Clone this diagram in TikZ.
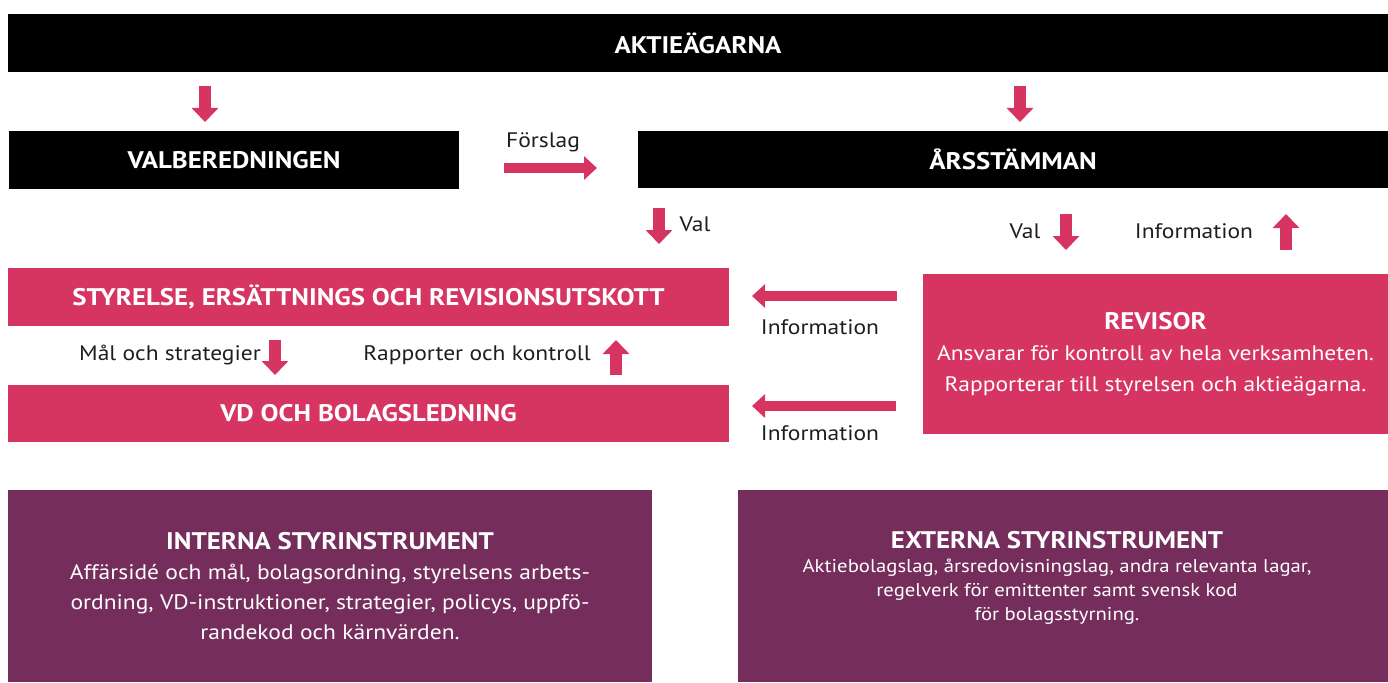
\documentclass[tikz,border=0pt]{standalone}
\usepackage{fontspec}
\setmainfont{PT Sans}[FakeStretch=1.12]
\usepackage{tikz}
\usetikzlibrary{arrows.meta}
\definecolor{rosa}{RGB}{214,53,98}
\definecolor{lila}{RGB}{117,45,92}
\definecolor{text}{RGB}{30,30,30}
\tikzset{
  svartbox/.style={fill=black, text=white, inner sep=0pt, font=\bfseries\fontsize{24}{28}\selectfont},
  rosabox/.style={fill=rosa, text=white, inner sep=0pt, align=center, font=\bfseries\fontsize{24}{28}\selectfont},
  lilabox/.style={fill=lila, text=white, inner sep=0pt, align=center},
  etikett/.style={text=text, inner sep=0pt, font=\fontsize{21}{25}\selectfont},
  pil/.style={draw=rosa, line width=12pt, -{Triangle[length=14pt,width=26pt]}},
  hpil/.style={draw=rosa, line width=10pt, -{Triangle[length=13pt,width=23pt]}}
}
\begin{document}
\begin{tikzpicture}[x=1pt,y=-1pt]
\useasboundingbox (0,0) rectangle (1388,682);
\node[svartbox, minimum width=1380pt, minimum height=58pt] (aktie) at (698,43) {AKTIEÄGARNA};
\node[svartbox, minimum width=450pt, minimum height=58pt] (valb) at (234,160) {VALBEREDNINGEN};
\node[svartbox, minimum width=750pt, minimum height=57pt] (arss) at (1013,159.5) {ÅRSSTÄMMAN};
\node[rosabox, minimum width=721pt, minimum height=58pt] (styr) at (368.5,297) {STYRELSE, ERSÄTTNINGS OCH REVISIONSUTSKOTT};
\node[rosabox, minimum width=721pt, minimum height=57pt] (vd) at (368.5,413.5) {VD OCH BOLAGSLEDNING};
\node[rosabox, minimum width=465pt, minimum height=160pt, font=\fontsize{21}{31}\selectfont] (rev) at (1155.5,354)
  {{\bfseries\fontsize{24}{31}\selectfont REVISOR}\\
   Ansvarar för kontroll av hela verksamheten.\\
   Rapporterar till styrelsen och aktieägarna.};
\node[lilabox, minimum width=644pt, minimum height=192pt, font=\fontsize{21}{30}\selectfont] (intern) at (330,586)
  {{\bfseries\fontsize{24}{33}\selectfont INTERNA STYRINSTRUMENT}\\
   Affärsidé och mål, bolagsordning, styrelsens arbets-\\
   ordning, VD-instruktioner, strategier, policys, uppfö-\\
   randekod och kärnvärden.};
\node[lilabox, minimum width=650pt, minimum height=192pt] (extern) at (1063,586) {};
\node[lilabox, fill=none, font=\fontsize{18.5}{24}\selectfont] (externtext) at (1057,578)
  {{\bfseries\fontsize{24}{26}\selectfont EXTERNA STYRINSTRUMENT}\\
   Aktiebolagslag, årsredovisningslag, andra relevanta lagar,\\
   regelverk för emittenter samt svensk kod\\
   för bolagsstyrning.};

\coordinate (a1) at (205,86);   \coordinate (a2) at (205,122);
\coordinate (b1) at (1020,86);  \coordinate (b2) at (1020,122);
\coordinate (f1) at (504,168);  \coordinate (f2) at (597,168);
\coordinate (v1) at (659,208);  \coordinate (v2) at (659,244);
\coordinate (w1) at (1066,214); \coordinate (w2) at (1066,250);
\coordinate (i1) at (1286,250); \coordinate (i2) at (1286,214);
\coordinate (s1) at (897,296);  \coordinate (s2) at (752,296);
\coordinate (t1) at (896,406);  \coordinate (t2) at (752,406);
\coordinate (m1) at (275,340);  \coordinate (m2) at (275,375);
\coordinate (r1) at (616,375);  \coordinate (r2) at (616,340);
\draw[pil] (a1) -- (a2);
\draw[pil] (b1) -- (b2);
\draw[hpil] (f1) -- (f2);
\draw[pil] (v1) -- (v2);
\draw[pil] (w1) -- (w2);
\draw[pil] (i1) -- (i2);
\draw[hpil] (s1) -- (s2);
\draw[hpil] (t1) -- (t2);
\draw[pil] (m1) -- (m2);
\draw[pil] (r1) -- (r2);

\node[etikett] (forslag) at (543,142) {Förslag};
\node[etikett] (val1) at (695,224) {Val};
\node[etikett] (val2) at (1025,231) {Val};
\node[etikett] (info1) at (1194,231) {Information};
\node[etikett] (info2) at (820,327) {Information};
\node[etikett] (info3) at (820,433) {Information};
\node[etikett] (mal) at (170,355) {Mål och strategier};
\node[etikett] (rapp) at (477,355) {Rapporter och kontroll};
\end{tikzpicture}
\end{document}
